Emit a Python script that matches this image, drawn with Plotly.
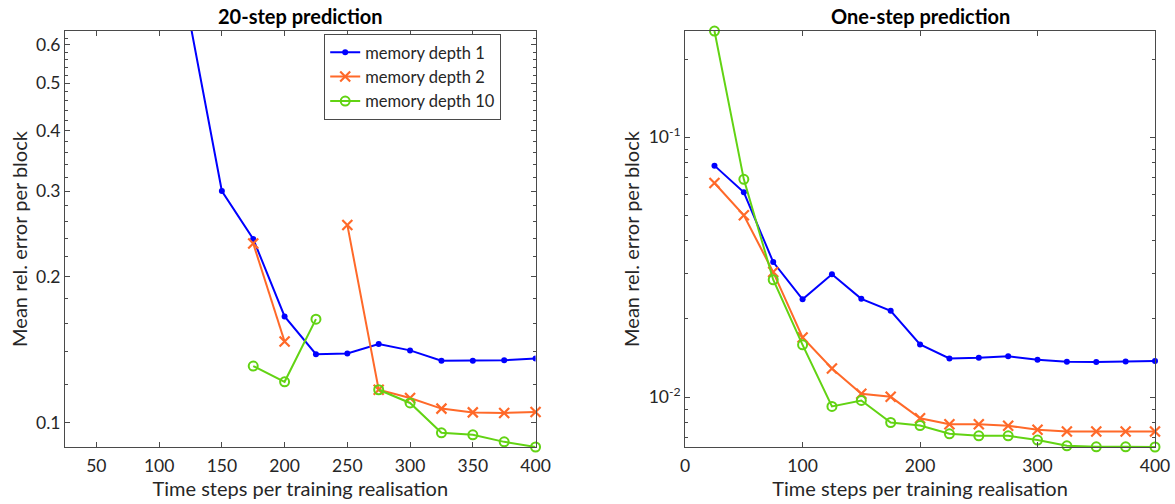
import numpy as np
import plotly.graph_objects as go
from plotly.subplots import make_subplots

# Training lengths (time steps per training realisation)
steps = [25, 50, 75, 100, 125, 150, 175, 200, 225, 250, 275, 300, 325, 350, 375, 400]

# 20-step prediction errors (None = no result for that length)
p20_depth1 = [None, None, None, None, 0.66, 0.300, 0.239, 0.1655, 0.1384, 0.1388,
              0.1452, 0.1409, 0.1341, 0.1341, 0.1344, 0.1356]
p20_depth2 = [None, None, None, None, None, None, 0.234, 0.147, None, 0.2555,
              0.1169, 0.1124, 0.1069, 0.1050, 0.1047, 0.1052]
p20_depth10 = [None, None, None, None, None, None, 0.1308, 0.1214, 0.1634, None,
               0.1169, 0.1098, 0.0953, 0.0944, 0.0913, 0.0891]

# One-step prediction errors
p1_depth1 = [0.0778, 0.0614, 0.0331, 0.0238, 0.0297, 0.0239, 0.0215, 0.01596, 0.01410,
             0.01417, 0.01436, 0.01393, 0.01368, 0.01365, 0.01373, 0.01379]
p1_depth2 = [0.0667, 0.0501, 0.0303, 0.01697, 0.01289, 0.0103, 0.01003, 0.0083, 0.00787,
             0.00787, 0.00776, 0.00749, 0.00738, 0.00738, 0.00738, 0.00738]
p1_depth10 = [0.2564, 0.0689, 0.0283, 0.0159, 0.00921, 0.00971, 0.00799, 0.00778, 0.00723,
              0.0071, 0.0071, 0.00684, 0.0065, 0.00644, 0.00644, 0.00643]

series_names = ["memory depth 1", "memory depth 2", "memory depth 10"]
colors = ["#0000FF", "#FF6929", "#62D313"]

FONT = "Lato, 'Open Sans', sans-serif"
TXT = "#262626"
AXC = "#4a4a4a"

fig = make_subplots(rows=1, cols=2, horizontal_spacing=0.1371)
fig.update_layout(xaxis=dict(domain=[0, 0.4317]), xaxis2=dict(domain=[0.5689, 1.0]))


def add_series(ys, idx, col, showlegend, clip):
    if idx == 0:
        marker = dict(symbol="circle", size=6, color=colors[idx])
    elif idx == 1:
        marker = dict(symbol="x-thin", size=10, color=colors[idx],
                      line=dict(width=2.2, color=colors[idx]))
    else:
        marker = dict(symbol="circle-open", size=9, color=colors[idx],
                      line=dict(width=2, color=colors[idx]))
    fig.add_trace(go.Scatter(x=steps, y=ys, mode="lines+markers", name=series_names[idx],
                             line=dict(color=colors[idx], width=2), marker=marker,
                             connectgaps=False, showlegend=showlegend, cliponaxis=clip),
                  row=1, col=col)


add_series(p20_depth1, 0, 1, True, True)
add_series(p20_depth2, 1, 1, True, False)
add_series(p20_depth10, 2, 1, True, False)
add_series(p1_depth1, 0, 2, False, False)
add_series(p1_depth2, 1, 2, False, False)
add_series(p1_depth10, 2, 2, False, False)

TICK_SIZE = 17.5
LABEL_SIZE = 20

axis_common = dict(showline=True, linecolor=AXC, linewidth=1, mirror="allticks",
                   ticks="inside", ticklen=5, tickcolor=AXC, showgrid=False, zeroline=False,
                   automargin=False,
                   tickfont=dict(family=FONT, size=TICK_SIZE, color=TXT))

left_minor = [round(v, 2) for v in np.arange(0.10, 0.645, 0.02)]
right_minor = [0.007, 0.008, 0.009, 0.02, 0.03, 0.04, 0.05, 0.06, 0.07, 0.08, 0.09, 0.2]

xtitle = dict(text="Time steps per training realisation",
              font=dict(family=FONT, size=LABEL_SIZE, color=TXT), standoff=4)
ytitle = dict(text="Mean rel. error per block",
              font=dict(family=FONT, size=LABEL_SIZE, color=TXT), standoff=3)

fig.update_xaxes(**axis_common, row=1, col=1, range=[25, 400], ticklabelstandoff=3,
                 tickvals=[50, 100, 150, 200, 250, 300, 350, 400], title=xtitle)
fig.update_xaxes(**axis_common, row=1, col=2, range=[0, 400], ticklabelstandoff=3,
                 tickvals=[0, 100, 200, 300, 400], title=xtitle)
fig.update_yaxes(**axis_common, row=1, col=1, type="log",
                 range=[np.log10(0.0891), np.log10(0.641)],
                 tickvals=[0.1, 0.2, 0.3, 0.4, 0.5, 0.6],
                 ticktext=["0.1", "0.2", "0.3", "0.4", "0.5", "0.6"],
                 minor=dict(tickvals=left_minor, ticks="inside", ticklen=3, tickcolor=AXC),
                 title=ytitle)
fig.update_yaxes(**axis_common, row=1, col=2, type="log",
                 range=[np.log10(0.00643), np.log10(0.2565)],
                 tickvals=[0.01, 0.1],
                 ticktext=["10<sup>-2</sup>", "10<sup>-1</sup>"],
                 minor=dict(tickvals=right_minor, ticks="inside", ticklen=3, tickcolor=AXC),
                 title=ytitle)

fig.add_annotation(text="<b>20-step prediction</b>", xref="x domain", yref="paper",
                   x=0.5, y=1.0, yshift=1, xanchor="center", yanchor="bottom", showarrow=False,
                   font=dict(family=FONT, size=20, color="#000000"))
fig.add_annotation(text="<b>One-step prediction</b>", xref="x2 domain", yref="paper",
                   x=0.5, y=1.0, yshift=1, xanchor="center", yanchor="bottom", showarrow=False,
                   font=dict(family=FONT, size=20, color="#000000"))

fig.update_layout(
    width=1175, height=504,
    margin=dict(l=65, r=20, t=31, b=57, autoexpand=False),
    paper_bgcolor="white", plot_bgcolor="white",
    font=dict(family=FONT, color=TXT),
    legend=dict(x=0.2378, y=0.993, xanchor="left", yanchor="top",
                bordercolor=AXC, borderwidth=1, bgcolor="white",
                font=dict(family=FONT, size=16.5, color=TXT),
                tracegroupgap=0, itemwidth=30),
)

fig.write_html("out.html")
